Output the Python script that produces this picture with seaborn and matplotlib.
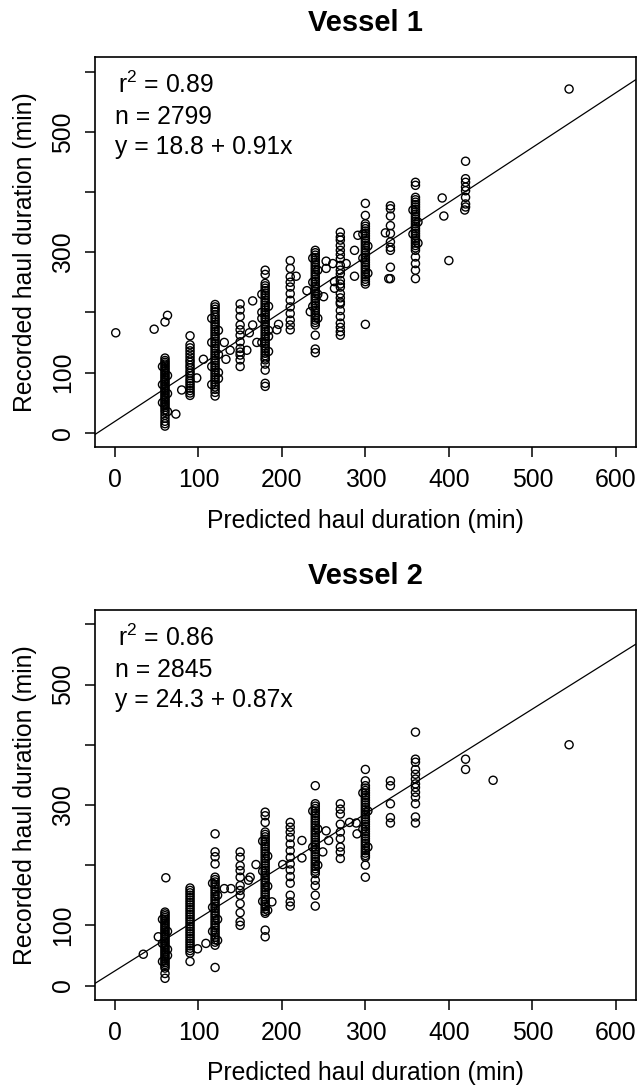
import matplotlib
matplotlib.use('Agg')
import matplotlib.pyplot as plt
import seaborn as sns
import pandas as pd

# ---- Vessel 1: recorded haul duration stacked at each predicted value ----
v1_p60 = [124, 120, 117, 114, 111, 108, 105, 102, 99, 96, 93, 90, 87, 84, 81, 78, 75, 72,
          69, 66, 63, 60, 57, 54, 51, 48, 45, 42, 38, 34, 29, 24, 19, 15, 11]
v1_p90 = [161, 146, 141, 136, 131, 126, 121, 117, 112, 108, 103, 99, 95, 90, 86, 82, 78,
          74, 70, 66, 62]
v1_p120 = [213, 209, 205, 201, 196, 192, 188, 184, 180, 176, 172, 168, 164, 160, 156, 152,
           148, 144, 140, 136, 132, 128, 124, 120, 116, 112, 108, 104, 100, 96, 92, 88, 84,
           80, 76, 72, 67, 61]
v1_p150 = [214, 204, 193, 179, 171, 162, 151, 140, 134, 129, 121, 110]
v1_p180 = [270, 263, 248, 244, 240, 236, 232, 228, 224, 220, 216, 212, 208, 204, 200, 196,
           192, 188, 184, 180, 176, 172, 168, 164, 160, 156, 152, 148, 144, 140, 136, 132,
           128, 124, 121, 114, 104, 82, 77]
v1_p210 = [286, 273, 259, 250, 242, 231, 220, 209, 198, 187, 179, 171]
v1_p240 = [303, 299, 295, 291, 287, 283, 279, 275, 271, 267, 263, 259, 255, 251, 247, 243,
           239, 235, 231, 227, 223, 219, 215, 211, 207, 203, 199, 195, 191, 187, 183, 179,
           162, 139, 133]
v1_p270 = [333, 325, 320, 311, 303, 296, 289, 278, 270, 264, 253, 247, 242, 231, 224, 217,
           214, 203, 193, 182, 175, 168, 162]
v1_p300 = [381, 361, 347, 343, 339, 335, 331, 327, 323, 319, 315, 311, 307, 303, 299, 295,
           291, 287, 283, 279, 275, 271, 267, 263, 259, 255, 251, 247, 180]
v1_p330 = [377, 372, 360, 344, 331, 317, 308, 303, 275, 256]
v1_p360 = [416, 411, 391, 387, 383, 379, 375, 371, 367, 363, 359, 355, 351, 347, 343, 339,
           335, 331, 327, 323, 319, 315, 311, 307, 303, 292, 281, 270, 256]
v1_p420 = [451, 422, 416, 408, 402, 391, 380, 375]

# scattered points that are not on a column
v1_other_x = [1, 47, 60, 63, 73, 80, 98, 106, 131, 138, 133, 165, 165, 161, 158, 170, 196,
              194, 217, 230, 253, 253, 250, 261, 234, 263, 263, 277, 287, 291, 287, 324, 328,
              392, 394, 400, 419, 544]
v1_other_y = [166, 172, 184, 195, 31, 71, 91, 122, 150, 137, 122, 219, 179, 166, 137, 150, 180,
              171, 260, 236, 285, 273, 226, 281, 201, 251, 240, 281, 303, 328, 260, 332, 256,
              390, 360, 286, 370, 571]
# points on the sides of the dense columns
v1_side_x = [57, 63, 57, 63, 57, 63, 116, 124, 116, 124, 116, 124, 116, 124, 176, 184, 176, 184,
             176, 184, 176, 184, 237, 243, 237, 243, 237, 243, 297, 303, 297, 303, 357, 363,
             357, 363]
v1_side_y = [110, 95, 80, 65, 50, 35, 190, 170, 150, 130, 110, 90, 80, 100, 230, 210, 190, 170,
             150, 135, 200, 160, 290, 270, 250, 230, 210, 190, 330, 310, 290, 265, 370, 350,
             330, 315]

# ---- Vessel 2 ----
v2_p60 = [122, 119, 116, 113, 110, 107, 104, 101, 98, 95, 92, 89, 86, 83, 80, 77, 74, 71,
          68, 65, 62, 59, 56, 53, 50, 47, 44, 41, 38, 35, 32, 29, 20, 12]
v2_p90 = [162, 158, 154, 150, 146, 142, 138, 134, 130, 126, 122, 118, 114, 110, 106, 102, 98,
          94, 90, 86, 82, 78, 74, 70, 66, 62, 58, 54, 40]
v2_p120 = [252, 222, 214, 202, 180, 176, 172, 168, 164, 160, 156, 152, 148, 144, 140, 136,
           132, 128, 124, 120, 116, 112, 108, 104, 100, 96, 92, 88, 84, 80, 76, 72, 67, 30]
v2_p150 = [222, 213, 199, 191, 180, 166, 158, 150, 136, 121, 106, 100]
v2_p180 = [288, 282, 271, 255, 251, 247, 243, 239, 235, 231, 227, 223, 219, 215, 211, 207,
           203, 199, 195, 191, 187, 183, 179, 175, 171, 167, 163, 159, 155, 151, 147, 143,
           139, 135, 131, 127, 123, 120, 92, 81]
v2_p210 = [271, 263, 255, 246, 235, 224, 213, 202, 192, 181, 170, 150, 139, 132]
v2_p240 = [332, 302, 298, 294, 290, 286, 282, 278, 274, 270, 266, 262, 258, 254, 250, 246,
           242, 238, 234, 230, 226, 222, 218, 214, 210, 206, 202, 198, 194, 190, 186, 175,
           166, 150, 132]
v2_p270 = [302, 293, 285, 268, 255, 244, 230, 222, 211]
v2_p300 = [359, 340, 332, 328, 324, 320, 316, 312, 308, 304, 300, 296, 292, 288, 284, 280,
           276, 272, 268, 264, 260, 256, 252, 248, 244, 240, 236, 232, 228, 224, 220, 216,
           213, 200, 180]
v2_p330 = [340, 332, 302, 279, 270]
v2_p360 = [421, 376, 371, 359, 351, 343, 335, 329, 321, 313, 302, 280, 270]
v2_p420 = [376, 359]

v2_other_x = [34, 52, 61, 99, 109, 131, 139, 160, 162, 169, 188, 201, 224, 224, 253, 256, 249,
              281, 290, 289, 453, 544]
v2_other_y = [52, 81, 179, 61, 70, 161, 161, 175, 180, 201, 139, 201, 241, 212, 257, 241, 222,
              271, 252, 270, 341, 400]
v2_side_x = [57, 63, 57, 63, 57, 63, 117, 123, 117, 123, 117, 123, 177, 183, 177, 183, 177, 183,
             237, 243, 237, 243, 297, 303, 297, 303]
v2_side_y = [110, 90, 70, 50, 40, 60, 170, 150, 130, 110, 90, 75, 240, 215, 190, 165, 140, 125,
             290, 260, 230, 200, 320, 290, 260, 230]

# fit statistics shown on each panel
v1_stats = {'r2': '0.89', 'n': '2799', 'a': 18.8, 'b': 0.91}
v2_stats = {'r2': '0.86', 'n': '2845', 'a': 24.3, 'b': 0.87}

x_ticks = [0, 100, 200, 300, 400, 500, 600]
y_ticks = [0, 100, 200, 300, 400, 500, 600]
y_labels = ['0', '100', '', '300', '', '500', '']

FS = 17.8


def build_frame(cols, other_x, other_y, side_x, side_y):
    """Stack the column lists and loose points into one dataframe"""
    xs, ys = [], []
    for pred, rec in cols:
        xs += [pred] * len(rec)
        ys += list(rec)
    xs += other_x + side_x
    ys += other_y + side_y
    return pd.DataFrame({'pred': xs, 'rec': ys})


def draw_panel(ax, df, title, stats):
    sns.scatterplot(data=df, x='pred', y='rec', ax=ax, marker='o', s=34,
                    color='black', facecolor='none', edgecolor='black',
                    linewidth=1.0, legend=False, zorder=2)
    ax.axline((0, stats['a']), slope=stats['b'], color='black', lw=0.9, zorder=3)
    ax.set_xlim(-24, 624)
    ax.set_ylim(-24, 624)
    ax.set_xticks(x_ticks)
    ax.set_xticklabels([str(t) for t in x_ticks], fontsize=FS)
    ax.set_yticks(y_ticks)
    ax.set_yticklabels(y_labels, fontsize=FS, rotation=90, va='center')
    ax.tick_params(axis='both', direction='out', length=7.5, width=1.1, color='black',
                   labelcolor='black')
    ax.tick_params(axis='x', pad=7.5)
    ax.tick_params(axis='y', pad=7)
    for sp in ax.spines.values():
        sp.set_visible(True)
        sp.set_linewidth(1.2)
        sp.set_color('black')
    ax.set_xlabel('Predicted haul duration (min)', fontsize=FS, labelpad=12, color='black')
    ax.set_ylabel('Recorded haul duration (min)', fontsize=FS, labelpad=10, color='black')
    ax.set_title(title, fontsize=21, fontweight='bold', pad=19, color='black')
    ax.grid(False)

    # statistics block, top left
    ax.text(0.043, 0.908, r'r$^{2}$ = ' + stats['r2'], transform=ax.transAxes,
            fontsize=FS, va='baseline', ha='left', color='black')
    ax.text(0.037, 0.828, 'n = ' + stats['n'], transform=ax.transAxes,
            fontsize=FS, va='baseline', ha='left', color='black')
    ax.text(0.037, 0.752, 'y = {} + {}x'.format(stats['a'], stats['b']),
            transform=ax.transAxes, fontsize=FS, va='baseline', ha='left', color='black')


sns.set_style('ticks')
plt.rcParams['font.family'] = ['Liberation Sans', 'DejaVu Sans']
plt.rcParams['text.color'] = 'black'
plt.rcParams['axes.labelcolor'] = 'black'
plt.rcParams['mathtext.fontset'] = 'custom'
plt.rcParams['mathtext.rm'] = 'Liberation Sans'
plt.rcParams['mathtext.it'] = 'Liberation Sans'
plt.rcParams['mathtext.default'] = 'regular'

v1 = build_frame([(60, v1_p60), (90, v1_p90), (120, v1_p120), (150, v1_p150),
                  (180, v1_p180), (210, v1_p210), (240, v1_p240), (270, v1_p270),
                  (300, v1_p300), (330, v1_p330), (360, v1_p360), (420, v1_p420)],
                 v1_other_x, v1_other_y, v1_side_x, v1_side_y)
v2 = build_frame([(60, v2_p60), (90, v2_p90), (120, v2_p120), (150, v2_p150),
                  (180, v2_p180), (210, v2_p210), (240, v2_p240), (270, v2_p270),
                  (300, v2_p300), (330, v2_p330), (360, v2_p360), (420, v2_p420)],
                 v2_other_x, v2_other_y, v2_side_x, v2_side_y)

fig = plt.figure(figsize=(6.41, 10.88), dpi=100)
ax1 = fig.add_axes([0.148, 0.589, 0.844, 0.3585])
ax2 = fig.add_axes([0.148, 0.0809, 0.844, 0.3585])

draw_panel(ax1, v1, 'Vessel 1', v1_stats)
draw_panel(ax2, v2, 'Vessel 2', v2_stats)

fig.savefig('out.png', dpi=100, facecolor='white')
